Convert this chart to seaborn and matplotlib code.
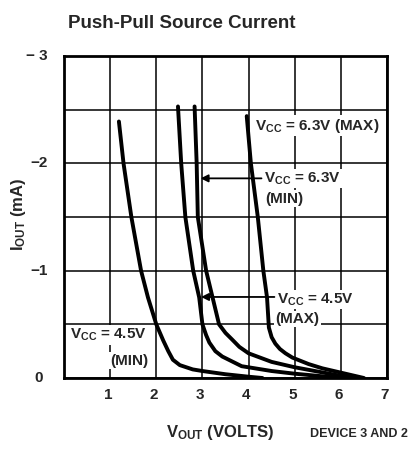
import matplotlib
matplotlib.use("Agg")
import matplotlib.pyplot as plt
import seaborn as sns
import pandas as pd

# Output voltage (V) and source current (mA) for each supply condition
vout_45_min = [1.19, 1.29, 1.46, 1.67, 1.82, 2.0, 2.15, 2.26, 2.36, 2.51, 2.79, 3.0, 3.5, 4.0, 4.3]
iout_45_min = [-2.39, -2.0, -1.5, -1.0, -0.75, -0.5, -0.35, -0.25, -0.17, -0.12, -0.08, -0.065, -0.035, -0.012, 0.0]

vout_45_max = [2.47, 2.54, 2.63, 2.8, 2.93, 3.0, 3.08, 3.15, 3.28, 3.43, 3.85, 4.5, 5.0, 5.5, 6.0]
iout_45_max = [-2.53, -2.0, -1.5, -1.0, -0.75, -0.5, -0.4, -0.33, -0.25, -0.2, -0.11, -0.065, -0.04, -0.02, 0.0]

vout_63_min = [2.83, 2.875, 2.9, 3.08, 3.22, 3.36, 3.5, 3.64, 3.8, 4.0, 4.5, 5.0, 5.5, 6.0, 6.3]
iout_63_min = [-2.53, -2.0, -1.5, -1.0, -0.75, -0.5, -0.42, -0.36, -0.29, -0.23, -0.15, -0.1, -0.06, -0.02, 0.0]

vout_63_max = [3.96, 4.05, 4.2, 4.32, 4.4, 4.44, 4.5, 4.58, 4.68, 4.8, 4.95, 5.3, 5.6, 6.0, 6.5]
iout_63_max = [-2.44, -2.0, -1.5, -1.0, -0.75, -0.47, -0.38, -0.32, -0.27, -0.23, -0.19, -0.13, -0.09, -0.05, 0.0]

curve_names = ["4.5V MIN", "4.5V MAX", "6.3V MIN", "6.3V MAX"]
x_ticks = [1, 2, 3, 4, 5, 6, 7]
x_tick_labels = ["1", "2", "3", "4", "5", "6", "7"]
y_ticks = [0, -1, -2, -3]
y_tick_labels = ["0", "\u22121", "\u22122", "\u2212 3"]

frames = []
for name, v, i in zip(curve_names,
                      [vout_45_min, vout_45_max, vout_63_min, vout_63_max],
                      [iout_45_min, iout_45_max, iout_63_min, iout_63_max]):
    frames.append(pd.DataFrame({"vout": v, "iout": i, "curve": name}))
df = pd.concat(frames, ignore_index=True)

sns.set_theme(style="white")
plt.rcParams["font.family"] = ["Liberation Sans", "DejaVu Sans"]
plt.rcParams["font.weight"] = "bold"
plt.rcParams["mathtext.fontset"] = "custom"
plt.rcParams["mathtext.rm"] = "Liberation Sans:bold"
plt.rcParams["mathtext.it"] = "Liberation Sans:bold"
plt.rcParams["mathtext.bf"] = "Liberation Sans:bold"
plt.rcParams["mathtext.default"] = "rm"

fig = plt.figure(figsize=(4.17, 4.54), dpi=100)
ax = fig.add_axes([64 / 417, 1 - 378 / 454, 323 / 417, 322 / 454])

sns.lineplot(data=df, x="vout", y="iout", hue="curve", units="curve", estimator=None,
             sort=False, palette=["black"] * 4, linewidth=2.8, legend=False, ax=ax,
             zorder=4)
ax.lines[0].get_path()
for ln in ax.lines:
    ln.set_solid_joinstyle("round")
    ln.set_solid_capstyle("round")

ax.set_xlim(0, 7)
ax.set_ylim(0, -3)
ax.set_xlabel("")
ax.set_ylabel("")

# grid every volt and every half milliamp
ax.set_xticks(range(0, 8))
ax.set_yticks([0, -0.5, -1, -1.5, -2, -2.5, -3])
ax.grid(True, color="black", linewidth=1.1)
ax.tick_params(length=0, labelbottom=False, labelleft=False)
for s in ax.spines.values():
    s.set_color("black")
    s.set_linewidth(2.0)
    s.set_zorder(5)

# tick labels
for xv, lab in zip(x_ticks, x_tick_labels):
    ax.text(xv - 0.05, -17 / 322, lab, transform=ax.get_xaxis_transform(),
            ha="center", va="center", fontsize=11, fontweight="bold")
for yv, lab in zip(y_ticks, y_tick_labels):
    ax.text(-0.36 if yv != 0 else -0.45, yv, lab, ha="right", va="center",
            fontsize=11, fontweight="bold", clip_on=False)

fig.text(68 / 417, 1 - 23 / 454, "Push-Pull Source Current", ha="left", va="center",
         fontsize=13.5, fontweight="bold")
fig.text(18 / 417, 1 - 214 / 454, r"I$_{\rm OUT}$ (mA)", rotation=90, ha="center", va="center",
         fontsize=12, fontweight="bold")
fig.text(220 / 417, 1 - 433 / 454, r"V$_{\rm OUT}$ (VOLTS)", ha="center", va="center",
         fontsize=12, fontweight="bold")
fig.text(408 / 417, 1 - 434 / 454, "DEVICE 3 AND 2", ha="right", va="center",
         fontsize=9, fontweight="bold")

box = dict(facecolor="white", edgecolor="none", pad=1.0)
lab_kw = dict(fontsize=11, fontweight="bold", zorder=6, bbox=box)

ax.text(4.14, -2.35, r"V$_{\rm CC}$ = 6.3V (MAX)", ha="left", va="center", **lab_kw)

ax.text(4.33, -1.86, r"V$_{\rm CC}$ = 6.3V", ha="left", va="center", **lab_kw)
ax.text(4.36, -1.67, "(MIN)", ha="left", va="center", **lab_kw)
ax.annotate("", xy=(2.96, -1.86), xytext=(4.28, -1.86),
            arrowprops=dict(arrowstyle="-|>", color="black", lw=1.3, mutation_scale=11,
                            shrinkA=0, shrinkB=0), zorder=6)

ax.text(4.62, -0.73, r"V$_{\rm CC}$ = 4.5V", ha="left", va="center", **lab_kw)
ax.text(4.58, -0.55, "(MAX)", ha="left", va="center", **lab_kw)
ax.annotate("", xy=(2.97, -0.755), xytext=(4.56, -0.755),
            arrowprops=dict(arrowstyle="-|>", color="black", lw=1.3, mutation_scale=11,
                            shrinkA=0, shrinkB=0), zorder=6)

ax.text(1.8, -0.40, r"V$_{\rm CC}$ = 4.5V", ha="right", va="center", **lab_kw)
ax.text(1.82, -0.16, "(MIN)", ha="right", va="center", **lab_kw)

fig.savefig("out.png", dpi=100, facecolor="white")
